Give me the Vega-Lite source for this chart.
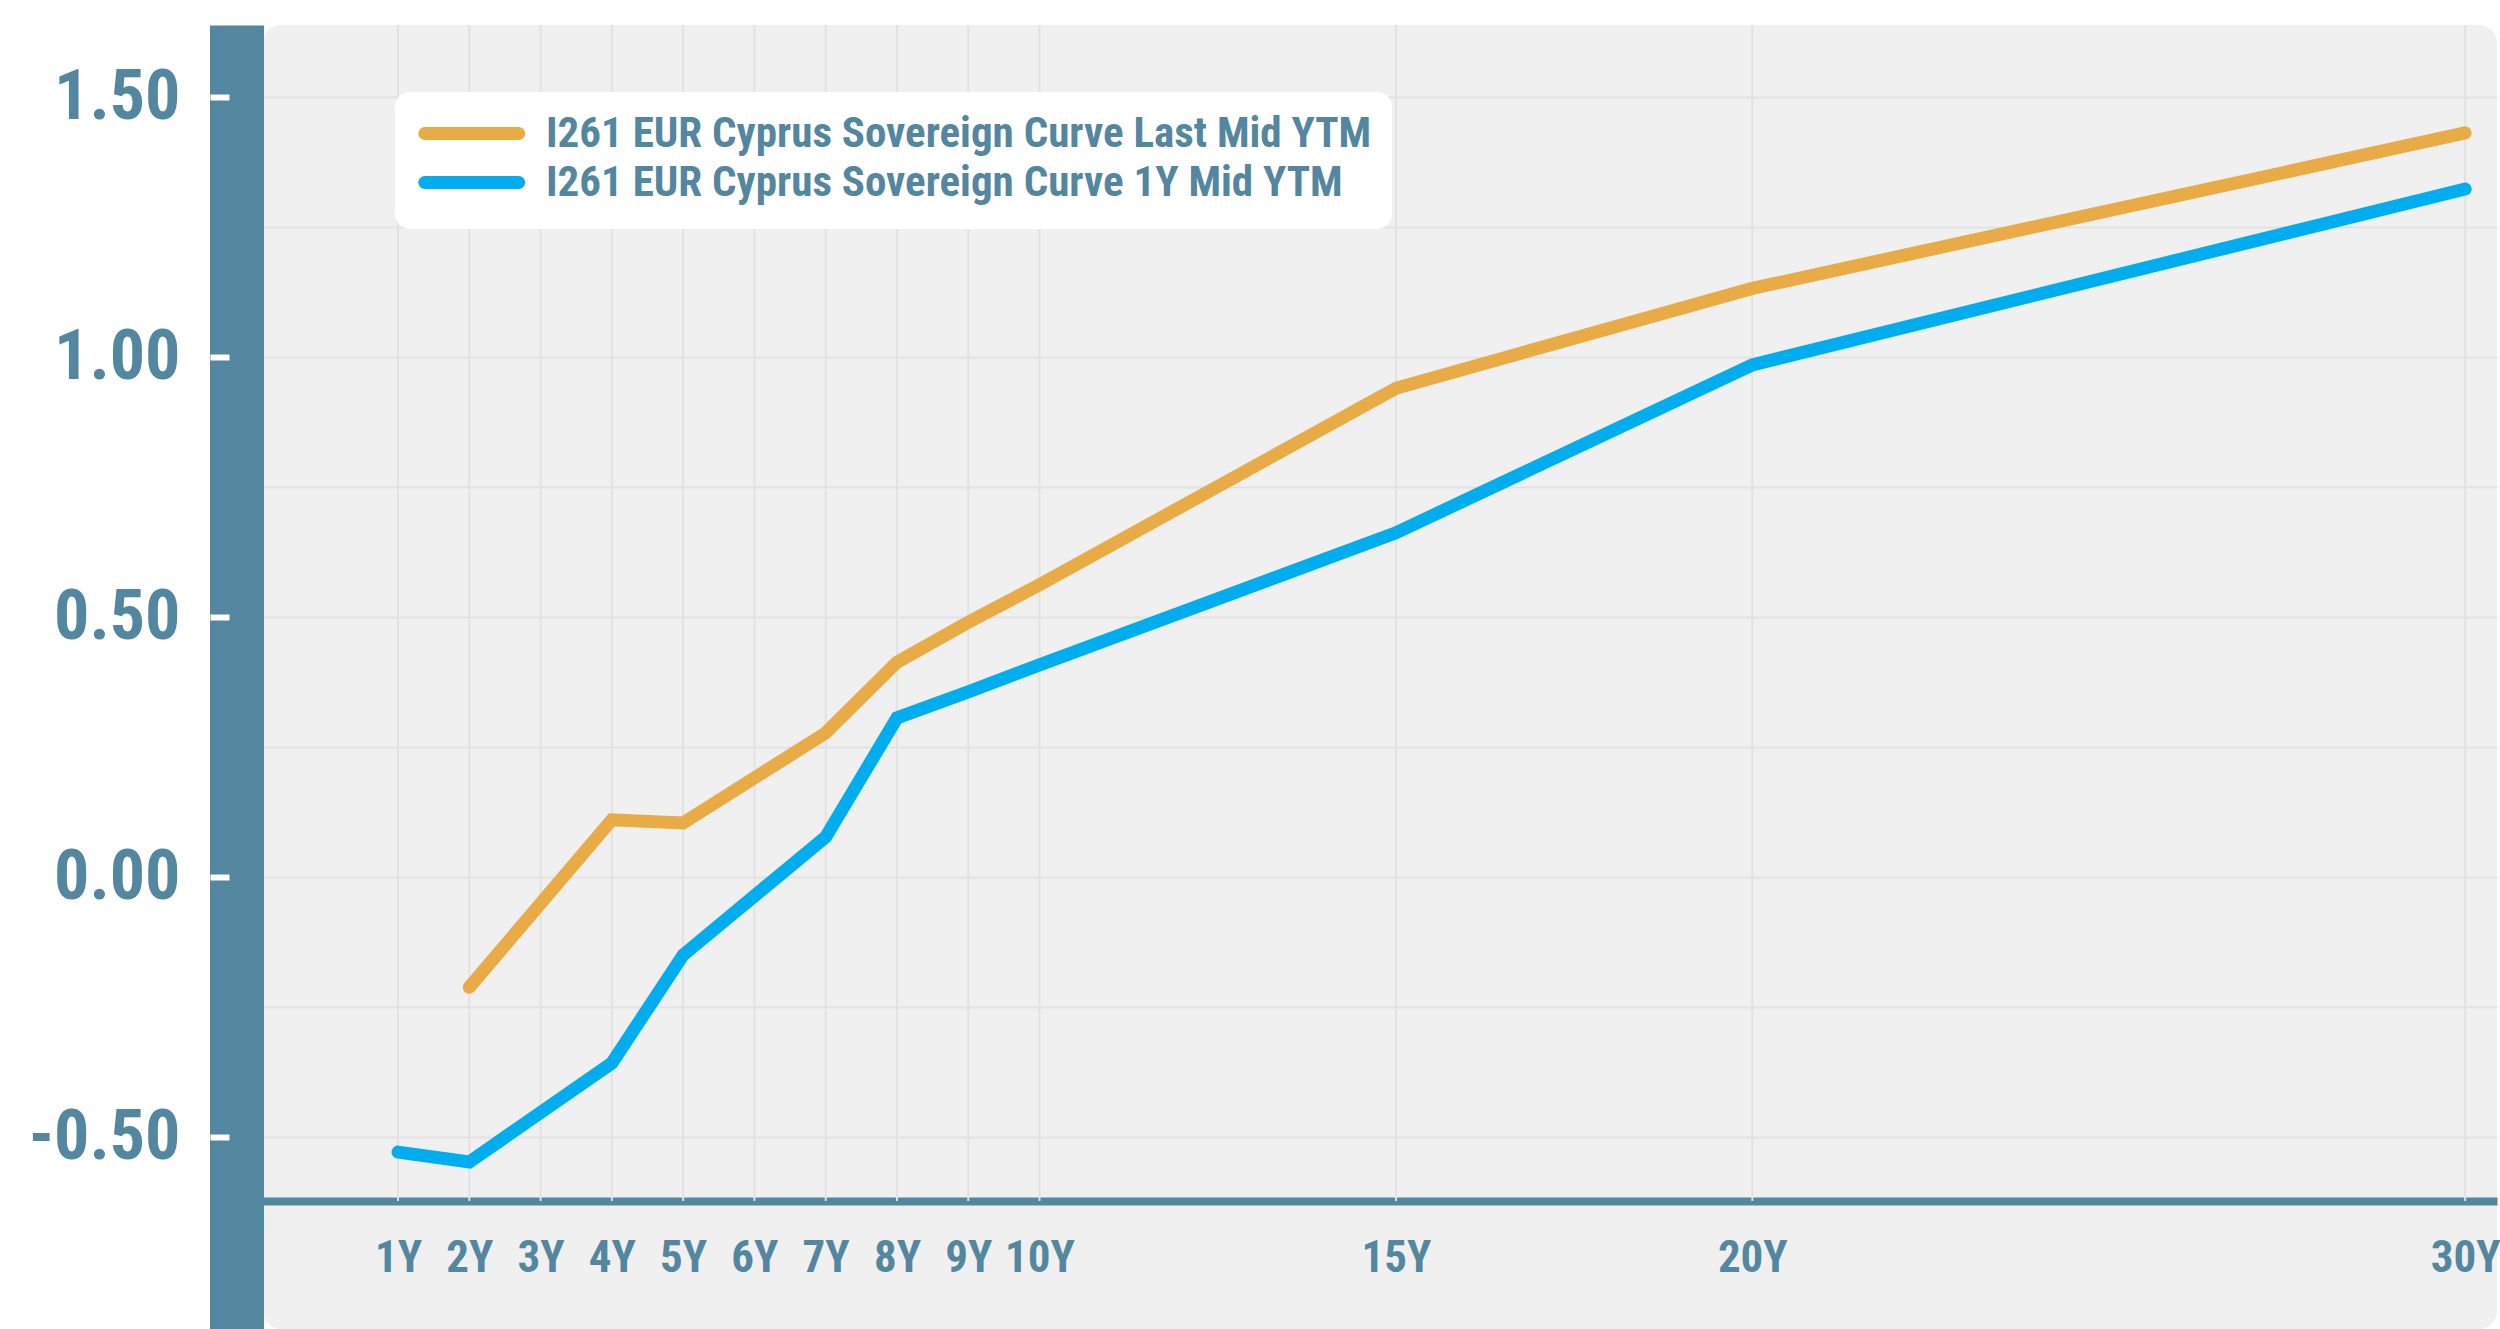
{
  "$schema": "https://vega.github.io/schema/vega-lite/v6.json",
  "autosize": {"type": "none"},
  "padding": {"left": 263, "top": 25, "right": 3, "bottom": 0},
  "width": 2234,
  "height": 1304,
  "background": "white",
  "config": {
    "view": {"fill": "#f0f0f0", "stroke": null, "cornerRadius": 18},
    "font": "Roboto Condensed, Liberation Sans Narrow, DejaVu Sans Condensed, Roboto, sans-serif"
  },
  "layer": [
    {
      "data": {"values": [
        {"tenor": 1}, {"tenor": 2}, {"tenor": 3}, {"tenor": 4}, {"tenor": 5},
        {"tenor": 6}, {"tenor": 7}, {"tenor": 8}, {"tenor": 9}, {"tenor": 10},
        {"tenor": 15}, {"tenor": 20}, {"tenor": 30}
      ]},
      "mark": {"type": "rule", "color": "#e2e2e2", "strokeWidth": 2},
      "encoding": {
        "x": {
          "field": "tenor", "type": "quantitative",
          "scale": {"domain": [-0.894, 30.447], "nice": false, "zero": false},
          "axis": {
            "title": null, "orient": "bottom", "offset": -128,
            "domain": true, "domainColor": "#53869f", "domainWidth": 8,
            "ticks": false, "grid": false,
            "labelPadding": 34, "labelFontSize": 45, "labelFontWeight": "bold",
            "labelColor": "#53869f", "labelFlush": false, "labelOverlap": false,
            "values": [1, 2, 3, 4, 5, 6, 7, 8, 9, 10, 15, 20, 30],
            "labelExpr": "datum.value + 'Y'"
          }
        },
        "y": {
          "datum": -0.623, "type": "quantitative",
          "scale": {"domain": [-0.8692, 1.6385], "nice": false, "zero": false},
          "axis": {
            "title": null, "orient": "left", "offset": 26.5,
            "domain": true, "domainColor": "#53869f", "domainWidth": 54, "domainCap": "butt",
            "ticks": false, "labels": false,
            "grid": true, "gridColor": "#e2e2e2", "gridWidth": 2,
            "values": [-0.5, -0.25, 0, 0.25, 0.5, 0.75, 1, 1.25, 1.5]
          }
        },
        "y2": {"datum": 1.6385}
      }
    },
    {
      "data": {"values": [
        {"series": "I261 EUR Cyprus Sovereign Curve Last Mid YTM", "tenor": 2, "yield": -0.212},
        {"series": "I261 EUR Cyprus Sovereign Curve Last Mid YTM", "tenor": 4, "yield": 0.110},
        {"series": "I261 EUR Cyprus Sovereign Curve Last Mid YTM", "tenor": 5, "yield": 0.104},
        {"series": "I261 EUR Cyprus Sovereign Curve Last Mid YTM", "tenor": 7, "yield": 0.277},
        {"series": "I261 EUR Cyprus Sovereign Curve Last Mid YTM", "tenor": 8, "yield": 0.413},
        {"series": "I261 EUR Cyprus Sovereign Curve Last Mid YTM", "tenor": 9, "yield": 0.490},
        {"series": "I261 EUR Cyprus Sovereign Curve Last Mid YTM", "tenor": 10, "yield": 0.562},
        {"series": "I261 EUR Cyprus Sovereign Curve Last Mid YTM", "tenor": 15, "yield": 0.940},
        {"series": "I261 EUR Cyprus Sovereign Curve Last Mid YTM", "tenor": 20, "yield": 1.132},
        {"series": "I261 EUR Cyprus Sovereign Curve Last Mid YTM", "tenor": 30, "yield": 1.431},
        {"series": "I261 EUR Cyprus Sovereign Curve 1Y Mid YTM", "tenor": 1, "yield": -0.529},
        {"series": "I261 EUR Cyprus Sovereign Curve 1Y Mid YTM", "tenor": 2, "yield": -0.548},
        {"series": "I261 EUR Cyprus Sovereign Curve 1Y Mid YTM", "tenor": 4, "yield": -0.358},
        {"series": "I261 EUR Cyprus Sovereign Curve 1Y Mid YTM", "tenor": 5, "yield": -0.150},
        {"series": "I261 EUR Cyprus Sovereign Curve 1Y Mid YTM", "tenor": 7, "yield": 0.077},
        {"series": "I261 EUR Cyprus Sovereign Curve 1Y Mid YTM", "tenor": 8, "yield": 0.306},
        {"series": "I261 EUR Cyprus Sovereign Curve 1Y Mid YTM", "tenor": 9, "yield": 0.356},
        {"series": "I261 EUR Cyprus Sovereign Curve 1Y Mid YTM", "tenor": 10, "yield": 0.408},
        {"series": "I261 EUR Cyprus Sovereign Curve 1Y Mid YTM", "tenor": 15, "yield": 0.662},
        {"series": "I261 EUR Cyprus Sovereign Curve 1Y Mid YTM", "tenor": 20, "yield": 0.985},
        {"series": "I261 EUR Cyprus Sovereign Curve 1Y Mid YTM", "tenor": 30, "yield": 1.323}
      ]},
      "mark": {"type": "line", "strokeWidth": 13, "strokeCap": "round"},
      "encoding": {
        "x": {"field": "tenor", "type": "quantitative"},
        "y": {
          "field": "yield", "type": "quantitative",
          "axis": {
            "title": null, "orient": "left", "offset": 53,
            "domain": false, "grid": false,
            "ticks": true, "tickColor": "white", "tickWidth": 6, "tickSize": -19,
            "labelPadding": 49, "labelFontSize": 70, "labelFontWeight": "bold",
            "labelColor": "#53869f",
            "values": [-0.5, 0, 0.5, 1, 1.5],
            "labelExpr": "(datum.value < 0 ? '-' : '') + format(abs(datum.value), '.2f')"
          }
        },
        "color": {
          "field": "series", "type": "nominal",
          "scale": {
            "domain": ["I261 EUR Cyprus Sovereign Curve Last Mid YTM", "I261 EUR Cyprus Sovereign Curve 1Y Mid YTM"],
            "range": ["#e8ab45", "#00aeef"]
          },
          "legend": {
            "title": null, "orient": "none", "legendX": 132, "legendY": 67,
            "fillColor": "white", "cornerRadius": 15, "padding": 20,
            "symbolType": "M-1,0H7", "symbolStrokeWidth": 13, "symbolSize": 552,
            "labelFontSize": 43, "labelFontWeight": "bold", "labelColor": "#53869f",
            "labelLimit": 0, "labelOffset": 88, "rowPadding": -4,
            "encode": {"symbols": {"update": {"strokeCap": {"value": "round"}}}}
          }
        }
      }
    }
  ],
  "resolve": {"axis": {"y": "independent"}}
}
